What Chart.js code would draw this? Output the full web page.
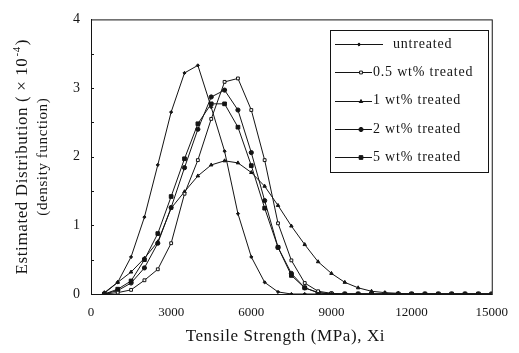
<!DOCTYPE html>
<html>
<head>
<meta charset="utf-8">
<script src="https://cdn.jsdelivr.net/npm/chart.js@4.4.0/dist/chart.umd.min.js"></script>
<style>
  body { margin: 0; background: #fff; }
  #density { display: block; }
</style>
</head>
<body>
<canvas id="density" width="519" height="353"></canvas>
<script>
// tensile strength (MPa) where the density was evaluated
var strength = [500, 1000, 1500, 2000, 2500, 3000, 3500, 4000, 4500, 5000,
                5500, 6000, 6500, 7000, 7500, 8000, 8500, 9000, 9500, 10000,
                10500, 11000, 11500, 12000, 12500, 13000, 13500, 14000, 14500, 15000];

// estimated density (x 10^-4)
var untreated = [0.01, 0.17, 0.54, 1.12, 1.88, 2.65, 3.22, 3.33, 2.72, 2.08,
                 1.17, 0.54, 0.17, 0.03, 0, 0, 0, 0, 0, 0,
                 0, 0, 0, 0, 0, 0, 0, 0, 0, 0];
var treated05 = [0, 0.02, 0.06, 0.2, 0.36, 0.74, 1.46, 1.95, 2.55, 3.09,
                 3.14, 2.68, 1.95, 1.03, 0.49, 0.16, 0.04, 0.01, 0, 0,
                 0, 0, 0, 0, 0, 0, 0, 0, 0, 0];
var treated1 = [0.02, 0.17, 0.32, 0.52, 0.76, 1.25, 1.49, 1.72, 1.88, 1.94,
                1.91, 1.77, 1.57, 1.29, 0.99, 0.72, 0.47, 0.3, 0.17, 0.09,
                0.04, 0.02, 0.01, 0, 0, 0, 0, 0, 0, 0];
var treated2 = [0, 0.05, 0.16, 0.38, 0.74, 1.26, 1.84, 2.4, 2.87, 2.97,
                2.68, 2.06, 1.36, 0.68, 0.3, 0.09, 0.02, 0, 0, 0,
                0, 0, 0, 0, 0, 0, 0, 0, 0, 0];
var treated5 = [0, 0.07, 0.19, 0.5, 0.88, 1.42, 1.97, 2.48, 2.77, 2.77,
                2.43, 1.87, 1.25, 0.68, 0.27, 0.09, 0.02, 0, 0, 0,
                0, 0, 0, 0, 0, 0, 0, 0, 0, 0];

var seriesNames = ["untreated", "0.5 wt% treated", "1 wt% treated", "2 wt% treated", "5 wt% treated"];

var ink = "#141414";
var serif = "'Liberation Serif', 'DejaVu Serif', serif";

function toPoints(vals) {
    var pts = [];
    for (let i = 0; i < strength.length; i++) {
        pts.push({x: strength[i], y: vals[i]});
    }
    return pts;
}

function series(label, vals, style, radius, fill) {
    return {
        label: label,
        data: toPoints(vals),
        borderColor: ink,
        borderWidth: 1,
        pointStyle: style,
        pointRadius: radius,
        pointBackgroundColor: fill,
        pointBorderColor: ink,
        pointBorderWidth: 1,
        tension: 0
    };
}

var datasets = [
    series(seriesNames[0], untreated, "rectRot", 1.6, ink),
    series(seriesNames[1], treated05, "rect", 2, "#fff"),
    series(seriesNames[2], treated1, "triangle", 2, ink),
    series(seriesNames[3], treated2, "circle", 2.1, ink),
    series(seriesNames[4], treated5, "rect", 2.6, ink)
];

// box round the plot plus short inward ticks on the y axis
var framePlugin = {
    id: "frame",
    afterDraw: function(chart) {
        var ctx = chart.ctx, a = chart.chartArea, ys = chart.scales.y;
        ctx.save();
        ctx.strokeStyle = ink;
        ctx.lineWidth = 1;
        ctx.strokeRect(a.left + 0.5, a.top + 0.5, a.right - a.left, a.bottom - a.top);
        ctx.beginPath();
        for (let v = 0.5; v < 4; v += 0.5) {
            var py = Math.round(ys.getPixelForValue(v)) + 0.5;
            ctx.moveTo(a.left, py);
            ctx.lineTo(a.left + 3, py);
        }
        ctx.stroke();
        ctx.restore();
    }
};

// axis titles
var titlePlugin = {
    id: "titles",
    afterDraw: function(chart) {
        var ctx = chart.ctx, a = chart.chartArea;
        ctx.save();
        ctx.fillStyle = ink;
        ctx.textBaseline = "middle";
        ctx.textAlign = "center";
        ctx.font = "17px " + serif;
        ctx.letterSpacing = "0.6px";
        ctx.fillText("Tensile Strength (MPa), Xi", (a.left + a.right) / 2 - 6, 337);

        ctx.translate(23, (a.top + a.bottom) / 2);
        ctx.rotate(-Math.PI / 2);
        ctx.textAlign = "left";
        var head = "Estimated Distribution ( \u00d7 10";
        ctx.font = "17px " + serif;
        var w1 = ctx.measureText(head).width;
        ctx.font = "11px " + serif;
        var w2 = ctx.measureText("-4").width;
        ctx.font = "17px " + serif;
        var w3 = ctx.measureText(")").width;
        var x0 = -(w1 + w2 + w3 + 2) / 2;
        ctx.fillText(head, x0, 0);
        ctx.font = "11px " + serif;
        ctx.fillText("-4", x0 + w1 + 1, -6);
        ctx.font = "17px " + serif;
        ctx.fillText(")", x0 + w1 + w2 + 2, 0);

        ctx.textAlign = "center";
        ctx.font = "15px " + serif;
        ctx.fillText("(density function)", 0, 20);
        ctx.restore();
    }
};

// boxed legend with line + marker samples
var legendPlugin = {
    id: "boxLegend",
    afterDraw: function(chart) {
        var ctx = chart.ctx;
        var box = {left: 330, top: 30, right: 488, bottom: 172};
        ctx.save();
        ctx.fillStyle = "#fff";
        ctx.fillRect(box.left, box.top, box.right - box.left, box.bottom - box.top);
        ctx.strokeStyle = ink;
        ctx.lineWidth = 1;
        ctx.strokeRect(box.left + 0.5, box.top + 0.5, box.right - box.left, box.bottom - box.top);
        ctx.font = "14px " + serif;
        ctx.letterSpacing = "0.8px";
        ctx.textBaseline = "middle";
        chart.data.datasets.forEach(function(ds, i) {
            var y = 44 + i * 28.3;
            var lineEnd = i === 0 ? 383 : 372;
            var mx = i === 0 ? 359 : 361;
            ctx.beginPath();
            ctx.moveTo(335, Math.round(y) + 0.5);
            ctx.lineTo(lineEnd, Math.round(y) + 0.5);
            ctx.stroke();
            ctx.fillStyle = ds.pointBackgroundColor;
            Chart.helpers.drawPoint(ctx, {
                pointStyle: ds.pointStyle,
                radius: ds.pointRadius,
                rotation: 0,
                borderWidth: 1
            }, mx, Math.round(y) + 0.5);
            ctx.fillStyle = ink;
            ctx.fillText(ds.label, i === 0 ? 393 : 373, y);
        });
        ctx.restore();
    }
};

var ctx = document.getElementById("density").getContext("2d");
var densityChart = new Chart(ctx, {
    type: "line",
    data: { datasets: datasets },
    options: {
        responsive: false,
        animation: false,
        devicePixelRatio: 1,
        layout: { padding: { top: 18, right: 20, left: 0, bottom: 0 } },
        plugins: {
            legend: { display: false },
            tooltip: { enabled: false }
        },
        scales: {
            x: {
                type: "linear",
                min: 0,
                max: 15000,
                grid: { display: false, drawTicks: false },
                border: { display: true, color: ink, width: 1 },
                ticks: {
                    stepSize: 3000,
                    padding: 11,
                    color: ink,
                    font: { family: serif, size: 13 },
                    maxRotation: 0,
                    callback: function(v) { return String(v); }
                },
                afterFit: function(scale) { scale.height = 59; }
            },
            y: {
                type: "linear",
                min: 0,
                max: 4,
                grid: { display: false, drawTicks: false },
                border: { display: true, color: ink, width: 1 },
                ticks: {
                    stepSize: 1,
                    padding: 11,
                    color: ink,
                    font: { family: serif, size: 14 },
                    callback: function(v) { return String(v); }
                },
                afterFit: function(scale) { scale.width = 91; }
            }
        }
    },
    plugins: [framePlugin, titlePlugin, legendPlugin]
});
</script>
</body>
</html>
